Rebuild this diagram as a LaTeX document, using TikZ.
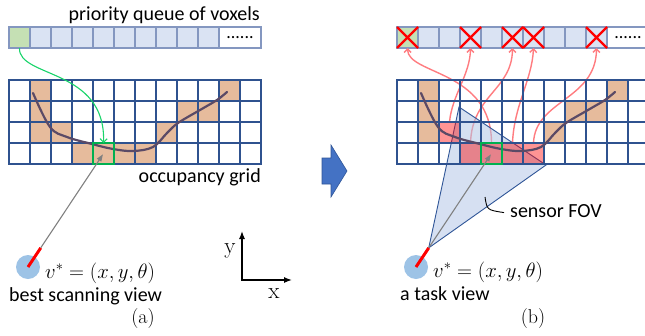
\documentclass[tikz,border=0pt]{standalone}
\usepackage{fontspec}
\setsansfont{Carlito}
\usetikzlibrary{arrows.meta, positioning, calc}

\definecolor{gridc}{HTML}{2F528F}
\definecolor{qline}{HTML}{8497C0}
\definecolor{qfill}{HTML}{DAE3F3}
\definecolor{qgreen}{HTML}{C5E0B4}
\definecolor{occ}{HTML}{E6BB9C}
\definecolor{surf}{HTML}{5B4A66}
\definecolor{pickc}{HTML}{00B050}
\definecolor{selc}{HTML}{19D46A}
\definecolor{hitc}{HTML}{FF7C80}
\definecolor{fovfill}{HTML}{B4C7E7}
\definecolor{fovline}{HTML}{2F5597}
\definecolor{viewc}{HTML}{9DC3E6}
\definecolor{stepc}{HTML}{4472C4}

\begin{document}
\begin{tikzpicture}[x=1pt, y=-1pt, font=\sffamily\fontsize{20}{24}\selectfont]
\tikzset{
    qcell/.style={draw=qline, line width=1.4pt, fill=qfill, minimum size=21pt, inner sep=0pt, outer sep=0pt},
    gcell/.style={draw=gridc, line width=1.4pt, fill=white, minimum size=21pt, inner sep=0pt, outer sep=0pt},
    occcell/.style={gcell, fill=occ},
    gline/.style={gcell, fill=none},
    hitcell/.style={gcell, draw=none, fill=red, fill opacity=0.42},
    pick/.style={draw=pickc, line width=2.4pt, minimum size=21pt, inner sep=0pt, outer sep=0pt},
    dots/.style={qcell, fill=white, minimum width=42pt, font=\sffamily\fontsize{18}{20}\selectfont},
    viewpt/.style={circle, fill=viewc, minimum size=24pt, inner sep=0pt},
    heading/.style={red, line width=3pt},
    ray/.style={draw=gray, line width=1.1pt, -{Triangle[length=7pt, width=5pt]}, shorten >=1pt},
    selarr/.style={draw=selc, line width=1.1pt, -{Straight Barb[length=3.5pt, width=7pt]}},
    hitarr/.style={draw=hitc, line width=1.4pt, -{Straight Barb[length=3.5pt, width=7pt]}},
    xmark/.style={red, line width=2.4pt},
    fov/.style={fill=fovfill, fill opacity=0.55, draw=fovline, line width=0.9pt},
    surface/.style={surf, line width=2.2pt, line cap=round},
    axis/.style={black, line width=1.3pt},
    leader/.style={black, line width=0.9pt},
    txt/.style={inner sep=0pt},
    serif/.style={inner sep=0pt, font=\rmfamily\fontsize{20}{24}\selectfont},
    axlab/.style={inner sep=0pt, anchor=base, font=\rmfamily\fontsize{23}{26}\selectfont},
    mathlab/.style={inner sep=0pt, anchor=base west, font=\rmfamily\fontsize{21}{25}\selectfont}
}
\useasboundingbox (0,0) rectangle (645,335);
\clip (0,0) rectangle (645,335);

% queue and occupancy grid of both panels
\foreach \p/\dx in {a/0, b/388} {
    \foreach \c in {0,...,9}
        \node[qcell] (\p q\c) at ({19.5+\dx+21*\c}, 37.5) {};
    \node[qcell, fill=qgreen] at (\p q0) {};
    \node[dots] (\p q10) at ({240+\dx}, 37.5) {......};
    \foreach \c in {0,...,11}
        \foreach \r in {0,...,3}
            \node[gcell] (\p\c-\r) at ({19.5+\dx+21*\c}, {90.5+21*\r}) {};
    \foreach \c/\r in {1/0, 1/1, 1/2, 7/2, 8/1, 9/1, 10/0}
        \node[occcell] at (\p\c-\r) {};
}
\foreach \c/\r in {2/2, 3/3, 4/3, 5/3, 6/3}
    \node[occcell] at (a\c-\r) {};

% view poses
\coordinate (av) at (28,267);
\coordinate (bv) at (416,267);
\coordinate (ah) at ($(av)!23pt!(a4-3)$);
\coordinate (bh) at ($(bv)!23pt!(b4-3)$);

% voxels seen from the task view
\draw[hitarr] (b2-2.north) .. controls (452,95) and (470,75) .. (bq3.south);
\draw[hitarr] (b4-3.north) .. controls (491.5,70) and (408,75) .. (bq0.south);
\draw[hitarr] (b3-3.north) .. controls (472,95) and (512,90) .. (bq5.south);
\draw[hitarr] (b5-3.north) .. controls (514,105) and (532,80) .. (bq6.south);
\draw[hitarr] (b6-3.north) .. controls (535,100) and (596,100) .. (bq9.south);
\filldraw[fov] (bh) -- (459,107) -- (546,165) -- cycle;
\foreach \c/\r in {2/2, 3/3, 4/3, 5/3, 6/3}
    \node[hitcell] at (b\c-\r) {};
\foreach \c in {0,...,11}
    \foreach \r in {0,...,3}
        \node[gline] at (b\c-\r) {};

% surface, chosen voxel and view
\foreach \p/\dx in {a/0, b/388} {
    \draw[surface, xshift=\dx pt] plot[smooth, tension=0.6] coordinates {(33,93) (50,127) (67,137) (92,144) (113,149) (133,151) (153,147) (167,133) (178,123) (200,110) (217,100) (227,92)};
    \node[pick] (\p pick) at (\p4-3) {};
    \node[viewpt] (\p view) at (\p v) {};
    \draw[heading] (\p v) -- (\p h);
    \draw[ray] (\p h) -- (\p4-3.center);
}
\draw[selarr] (aq0.south) .. controls (18,78) and (106,68) .. (a4-3.north);
\foreach \c in {0,3,5,6,9}
    \draw[xmark] (bq\c.north west) -- (bq\c.south east) (bq\c.north east) -- (bq\c.south west);

% labels
\node[txt, anchor=base east] (qtitle) at (260,20) {priority queue of voxels};
\node[txt, anchor=base east] (gtitle) at (261,182) {occupancy grid};
\node[mathlab] (aeq) at (45,278) {$v^* = (x, y, \theta)$};
\node[txt, anchor=base west] (alab) at (9,301) {best scanning view};
\node[serif, anchor=base] (acap) at (143,323) {(a)};
\node[mathlab] (beq) at (433,277) {$v^* = (x, y, \theta)$};
\node[txt, anchor=base west] (blab) at (400,300) {a task view};
\node[serif, anchor=base] (bcap) at (533,323) {(b)};
\node[txt, anchor=base west] (fovlab) at (510,217) {sensor FOV};
\draw[leader] ([xshift=-6pt, yshift=-2pt]fovlab.west) .. controls (487,210) .. (485,197);

% axes
\coordinate (orig) at (242,280);
\coordinate (ytip) at (242,231);
\coordinate (xtip) at (292,280);
\draw[axis, {Latex[length=8pt, width=6pt]}-{Latex[length=8pt, width=6pt]}] (ytip) -- (orig) -- (xtip);
\node[axlab] (ylab) at (230,253) {y};
\node[axlab] (xlab) at (274,298) {x};

% step arrow
\filldraw[fill=stepc, draw=fovline, line width=0.6pt] (322,158) -- (331,158) -- (331,145) -- (347,171) -- (331,197) -- (331,184) -- (322,184) -- cycle;
\end{tikzpicture}
\end{document}
